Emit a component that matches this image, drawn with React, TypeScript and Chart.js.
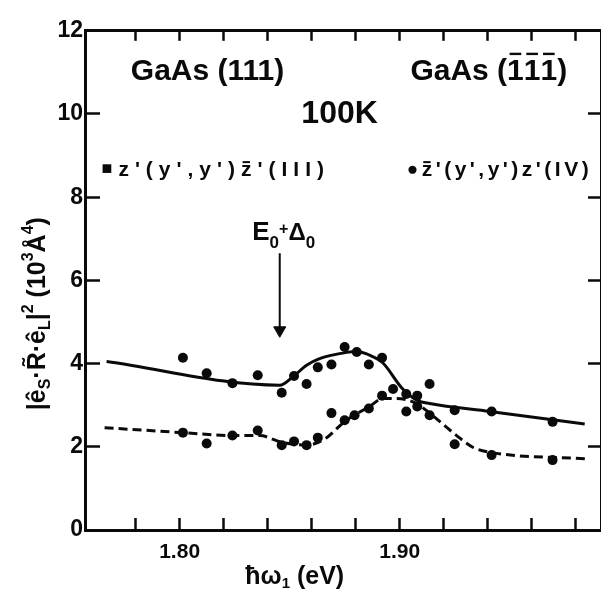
import { useEffect, useRef } from 'react';
import { Chart, registerables } from 'chart.js';

Chart.register(...registerables);

// ---- data ----
const xTickValues = [1.78, 1.8, 1.82, 1.84, 1.86, 1.88, 1.9, 1.92, 1.94, 1.96, 1.98];
const xLabeledTicks = [1.8, 1.9];
const yTickValues = [0, 2, 4, 6, 8, 10, 12];
const yRightTickValues = [2, 4, 6, 8, 10];

// series III : GaAs(111) z'(y',y')z̄'  (solid)
const pointsIIIx = [1.8015, 1.8123, 1.824, 1.8355, 1.8464, 1.852, 1.8577, 1.8628, 1.869, 1.875, 1.8805, 1.886, 1.892, 1.903, 1.908, 1.9136, 1.925, 1.9418, 1.9695];
const pointsIIIy = [4.14, 3.77, 3.53, 3.72, 3.3, 3.7, 3.51, 3.91, 3.98, 4.4, 4.28, 3.98, 4.14, 3.27, 2.97, 3.51, 2.88, 2.85, 2.6];

// series IV : GaAs(1̄1̄1̄) z̄'(y',y')z'  (dashed)
const pointsIVx = [1.8015, 1.8123, 1.824, 1.8355, 1.8464, 1.852, 1.8577, 1.8628, 1.869, 1.875, 1.8795, 1.886, 1.892, 1.897, 1.903, 1.908, 1.9136, 1.925, 1.9418, 1.9695];
const pointsIVy = [2.34, 2.08, 2.27, 2.39, 2.04, 2.13, 2.04, 2.22, 2.81, 2.64, 2.76, 2.92, 3.23, 3.39, 2.85, 3.23, 2.76, 2.06, 1.8, 1.68];

// drawn guide curves
const curveIIIx = [1.7668, 1.8455, 1.8514, 1.8577, 1.8636, 1.8759, 1.8805, 1.8877, 1.8923, 1.9014, 1.9082, 1.9136, 1.9409, 1.9841];
const curveIIIy = [4.05, 3.48, 3.68, 3.96, 4.12, 4.27, 4.29, 4.17, 4.02, 3.39, 3.11, 3.04, 2.85, 2.55];
const curveIVx = [1.7659, 1.8014, 1.8241, 1.8364, 1.8464, 1.8577, 1.8668, 1.8727, 1.8773, 1.8864, 1.8923, 1.8986, 1.9077, 1.9136, 1.9259, 1.9332, 1.9409, 1.985];
const curveIVy = [2.46, 2.34, 2.27, 2.27, 2.11, 2.04, 2.22, 2.5, 2.69, 2.97, 3.16, 3.16, 3.04, 2.81, 2.27, 1.99, 1.87, 1.71];

// E0+Δ0 arrow
const arrowX = [1.8455, 1.8455];
const arrowY = [6.65, 4.8];

const X_MIN = 1.757;
const X_MAX = 1.9915;
const Y_MIN = 0;
const Y_MAX = 12;

const FONT = '"Liberation Sans", Arial, "DejaVu Sans", sans-serif';
const INK = '#0a0a0a';

type Run = { t: string; s: number; dy?: number; bar?: boolean };
type Note = { x: number; y: number; align: 'left' | 'center'; rot?: number; spacing?: number; runs: Run[] };

const notes: Note[] = [
  { x: 1.8127, y: 10.81, align: 'center', runs: [{ t: 'GaAs (111)', s: 30 }] },
  {
    x: 1.9405, y: 10.81, align: 'center',
    runs: [{ t: 'GaAs (', s: 30 }, { t: '1', s: 30, bar: true }, { t: '1', s: 30, bar: true }, { t: '1', s: 30, bar: true }, { t: ')', s: 30 }],
  },
  { x: 1.8727, y: 9.78, align: 'center', runs: [{ t: '100K', s: 32 }] },
  {
    x: 1.7645, y: 8.5, align: 'left', spacing: 6,
    runs: [{ t: '\u25A0', s: 18, dy: -2 }, { t: "z'(y',y')", s: 21 }, { t: 'z', s: 21, bar: true }, { t: "'(III)", s: 21 }],
  },
  {
    x: 1.9032, y: 8.5, align: 'left', spacing: 3.5,
    runs: [{ t: '\u25CF', s: 19, dy: -1 }, { t: 'z', s: 21, bar: true }, { t: "'(y',y')z'(IV)", s: 21 }],
  },
  {
    x: 1.8473, y: 6.97, align: 'center',
    runs: [{ t: 'E', s: 26 }, { t: '0', s: 17, dy: 8 }, { t: '+', s: 16, dy: -6 }, { t: '\u0394', s: 24 }, { t: '0', s: 17, dy: 8 }],
  },
  {
    x: 1.8523, y: -1.29, align: 'center',
    runs: [{ t: '\u0127\u03C9', s: 25 }, { t: '1', s: 15, dy: 4 }, { t: ' (eV)', s: 25 }],
  },
  {
    x: 1.7386, y: 5.2, align: 'center', rot: -Math.PI / 2,
    runs: [
      { t: '|\u00EA', s: 25 }, { t: 'S', s: 16, dy: 5 }, { t: '\u00B7R\u0303\u00B7\u00EA', s: 25 }, { t: 'L', s: 16, dy: 5 },
      { t: '|', s: 25 }, { t: '2', s: 16, dy: -12 }, { t: ' (10', s: 25 }, { t: '3', s: 16, dy: -12 },
      { t: '\u00C5', s: 25 }, { t: '4', s: 16, dy: -12 }, { t: ')', s: 25 },
    ],
  },
];

const notesPlugin = {
  id: 'notes',
  afterDatasetsDraw(chart: any) {
    const ctx: CanvasRenderingContext2D = chart.ctx;
    const xs = chart.scales.x;
    const ys = chart.scales.y;
    notes.forEach((n) => {
      const px = xs.getPixelForValue(n.x);
      const py = ys.getPixelForValue(n.y);
      ctx.save();
      ctx.translate(px, py);
      if (n.rot) ctx.rotate(n.rot);
      (ctx as any).letterSpacing = `${n.spacing || 0}px`;
      ctx.fillStyle = INK;
      ctx.strokeStyle = INK;
      ctx.textBaseline = 'alphabetic';
      ctx.textAlign = 'left';
      const widths = n.runs.map((r) => {
        ctx.font = `bold ${r.s}px ${FONT}`;
        return ctx.measureText(r.t).width;
      });
      const total = widths.reduce((a, b) => a + b, 0);
      let cx = n.align === 'center' ? -total / 2 : 0;
      n.runs.forEach((r, i) => {
        ctx.font = `bold ${r.s}px ${FONT}`;
        const dy = r.dy || 0;
        ctx.fillText(r.t, cx, dy);
        if (r.bar) {
          const gw = widths[i] - (n.spacing || 0);
          const top = dy - r.s * (r.t === 'z' ? 0.68 : 0.88);
          ctx.lineWidth = Math.max(2, r.s * 0.08);
          ctx.beginPath();
          ctx.moveTo(cx + gw * 0.15, top);
          ctx.lineTo(cx + gw * 0.85, top);
          ctx.stroke();
        }
        cx += widths[i];
      });
      ctx.restore();
    });
  },
};

const zip = (xs: number[], ys: number[]) => xs.map((x, i) => ({ x, y: ys[i] }));

const axisGrid = (len: number) => ({
  drawOnChartArea: false,
  drawTicks: true,
  tickLength: -len,
  tickColor: INK,
  tickWidth: 2.5,
});
const axisBorder = { display: true, color: INK, width: 3 };

export default function App() {
  const ref = useRef<HTMLCanvasElement | null>(null);

  useEffect(() => {
    if (!ref.current) return;
    const chart = new Chart(ref.current, {
      type: 'scatter',
      data: {
        datasets: [
          {
            data: zip(curveIIIx, curveIIIy),
            showLine: true,
            borderColor: INK,
            borderWidth: 3,
            pointRadius: 0,
            cubicInterpolationMode: 'monotone',
          },
          {
            data: zip(curveIVx, curveIVy),
            showLine: true,
            borderColor: INK,
            borderWidth: 3,
            borderDash: [9, 5],
            pointRadius: 0,
            cubicInterpolationMode: 'monotone',
          },
          {
            data: zip(pointsIIIx, pointsIIIy),
            pointRadius: 5,
            pointBackgroundColor: INK,
            pointBorderColor: INK,
            pointBorderWidth: 0,
          },
          {
            data: zip(pointsIVx, pointsIVy),
            pointRadius: 5,
            pointBackgroundColor: INK,
            pointBorderColor: INK,
            pointBorderWidth: 0,
          },
          {
            data: zip(arrowX, arrowY),
            showLine: true,
            borderColor: INK,
            borderWidth: 2,
            pointRadius: [0, 7],
            pointStyle: ['circle', 'triangle'],
            rotation: 180,
            pointBackgroundColor: INK,
            pointBorderColor: INK,
            pointBorderWidth: 1,
          },
        ] as any,
      },
      options: {
        animation: false,
        responsive: false,
        maintainAspectRatio: false,
        events: [],
        layout: { padding: 0, autoPadding: false },
        plugins: { legend: { display: false }, tooltip: { enabled: false }, title: { display: false } },
        scales: {
          x: {
            type: 'linear',
            position: 'bottom',
            min: X_MIN,
            max: X_MAX,
            afterBuildTicks: (s: any) => {
              s.ticks = xTickValues.map((v) => ({ value: v }));
            },
            afterFit: (s: any) => {
              s.height = 67;
            },
            ticks: {
              autoSkip: false,
              maxRotation: 0,
              padding: 22,
              color: INK,
              font: { family: FONT, size: 21, weight: 'bold' },
              callback: (v: any) => (xLabeledTicks.some((t) => Math.abs(t - Number(v)) < 1e-6) ? Number(v).toFixed(2) : ''),
            },
            grid: axisGrid(12),
            border: axisBorder,
          },
          x2: {
            type: 'linear',
            position: 'top',
            min: X_MIN,
            max: X_MAX,
            afterBuildTicks: (s: any) => {
              s.ticks = xTickValues.map((v) => ({ value: v }));
            },
            afterFit: (s: any) => {
              s.height = 17;
            },
            ticks: { autoSkip: false, callback: () => '' },
            grid: axisGrid(10),
            border: axisBorder,
          },
          y: {
            type: 'linear',
            position: 'left',
            min: Y_MIN,
            max: Y_MAX,
            afterBuildTicks: (s: any) => {
              s.ticks = yTickValues.map((v) => ({ value: v }));
            },
            afterFit: (s: any) => {
              s.width = 85;
            },
            ticks: {
              padding: 17,
              color: INK,
              font: { family: FONT, size: 23, weight: 'bold' },
              callback: (v: any) => String(v),
            },
            grid: axisGrid(15),
            border: axisBorder,
          },
          y2: {
            type: 'linear',
            position: 'right',
            min: Y_MIN,
            max: Y_MAX,
            afterBuildTicks: (s: any) => {
              s.ticks = yRightTickValues.map((v) => ({ value: v }));
            },
            afterFit: (s: any) => {
              s.width = 0;
            },
            ticks: { callback: () => '' },
            grid: axisGrid(13),
            border: axisBorder,
          },
        },
      } as any,
      plugins: [notesPlugin],
    });
    return () => chart.destroy();
  }, []);

  return (
    <div style={{ position: 'absolute', left: 0, top: 0, width: 601, height: 597, background: '#fff' }}>
      <canvas ref={ref} width={601} height={597} style={{ display: 'block', width: 601, height: 597 }} />
    </div>
  );
}
